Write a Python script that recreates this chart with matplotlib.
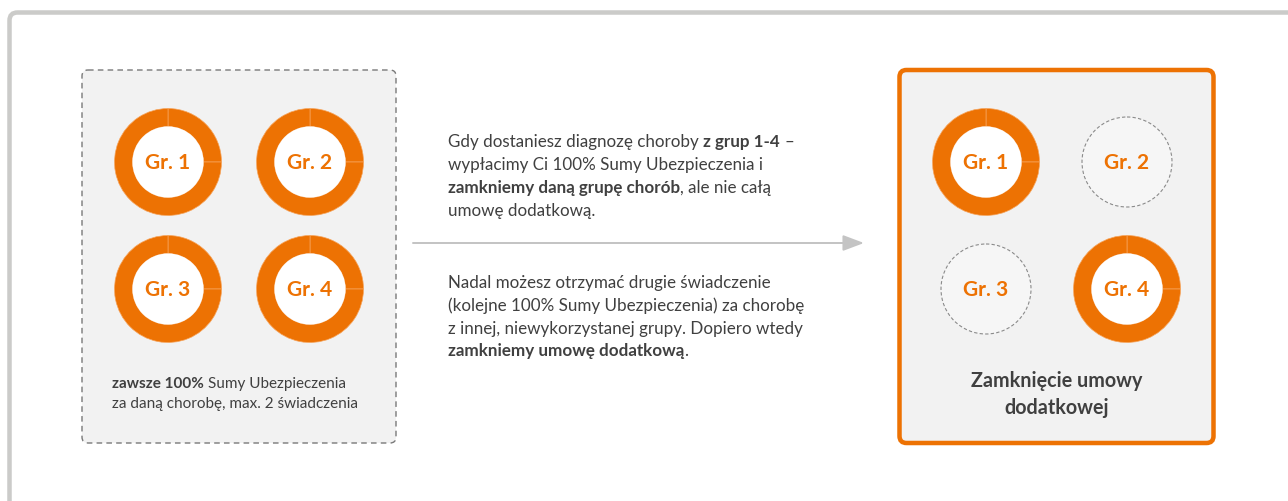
import matplotlib
matplotlib.use("Agg")
import matplotlib.pyplot as plt
from matplotlib.patches import FancyBboxPatch, Circle

W, H = 1288, 501
ORANGE = "#ED7203"
TEXT = "#404040"

# data
groups = ["Gr. 1", "Gr. 2", "Gr. 3", "Gr. 4"]
slice_shares = [25, 75]
left_active = [True, True, True, True]
right_active = [True, False, False, True]
left_centers = [(168, 162), (310, 162), (168, 289), (310, 289)]
right_centers = [(986, 162), (1127, 162), (986, 289), (1127, 289)]

para1 = [
    [("Gdy dostaniesz diagnozę choroby", False), ("z grup 1-4", True), ("–", False)],
    [("wypłacimy Ci 100% Sumy Ubezpieczenia i", False)],
    [("zamkniemy daną grupę chorób", True), (", ale nie całą", False, True)],
    [("umowę dodatkową.", False)],
]
para2 = [
    [("Nadal możesz otrzymać drugie świadczenie", False)],
    [("(kolejne 100% Sumy Ubezpieczenia) za chorobę", False)],
    [("z innej, niewykorzystanej grupy. Dopiero wtedy", False)],
    [("zamkniemy umowę dodatkową", True), (".", False, True)],
]
left_note = [
    [("zawsze 100%", True), ("Sumy Ubezpieczenia", False)],
    [("za daną chorobę, max. 2 świadczenia", False)],
]

plt.rcParams["font.family"] = ["Lato", "DejaVu Sans"]

fig = plt.figure(figsize=(W / 100, H / 100), dpi=100)
ax = fig.add_axes([0, 0, 1, 1])
renderer = fig.canvas.get_renderer()


def px(v):
    return v * 0.72


def rich_line(x, y, segs, size, color=TEXT):
    # draw text pieces one after another, bold where asked
    probe = ax.text(0, 0, "x x", fontsize=size)
    probe2 = ax.text(0, 0, "xx", fontsize=size)
    space = probe.get_window_extent(renderer).width - probe2.get_window_extent(renderer).width
    probe.remove()
    probe2.remove()
    for i, seg in enumerate(segs):
        txt, bold = seg[0], seg[1]
        glued = len(seg) > 2
        if i > 0 and not glued:
            x += space
        t = ax.text(x, y, txt, fontsize=size, color=color, va="baseline", ha="left",
                    fontweight="bold" if bold else "normal")
        x += t.get_window_extent(renderer).width


def donut(center, label):
    ax.pie(slice_shares, radius=53.5, center=center, startangle=270, counterclock=True,
           colors=[ORANGE, ORANGE], frame=True,
           wedgeprops=dict(width=18, edgecolor="#F6A45C", linewidth=0.5))
    ax.add_patch(Circle(center, 35.5, facecolor="white", edgecolor="none", zorder=3))
    ax.text(center[0], center[1] + 1, label, ha="center", va="center", fontsize=px(21),
            fontweight="bold", color=ORANGE, zorder=4)


def empty_slot(center, label):
    ax.add_patch(Circle(center, 45, facecolor="#F6F6F6", edgecolor="#8A8A8A",
                        linewidth=0.8, linestyle=(0, (3, 2)), zorder=3))
    ax.text(center[0], center[1] + 1, label, ha="center", va="center", fontsize=px(21),
            fontweight="bold", color=ORANGE, zorder=4)


# outer frame
ax.add_patch(FancyBboxPatch((9.5, 12.5), 1400, 600, boxstyle="round,pad=0,rounding_size=8",
                            facecolor="white", edgecolor="#CBCBC9", linewidth=px(4.5)))

# left box
ax.add_patch(FancyBboxPatch((82, 70), 314, 373, boxstyle="round,pad=0,rounding_size=6",
                            facecolor="#F2F2F2", edgecolor="#7A7A7A", linewidth=px(1.4),
                            linestyle=(0, (4, 3))))
# right box
ax.add_patch(FancyBboxPatch((899.5, 70), 314, 373, boxstyle="round,pad=0,rounding_size=7",
                            facecolor="#F2F2F2", edgecolor=ORANGE, linewidth=px(4.5)))

for g, c, a in zip(groups, left_centers, left_active):
    if a:
        donut(c, g)
    else:
        empty_slot(c, g)
for g, c, a in zip(groups, right_centers, right_active):
    if a:
        donut(c, g)
    else:
        empty_slot(c, g)

# arrow
ax.annotate("", xy=(864, 243), xytext=(413, 243),
            arrowprops=dict(arrowstyle="-|>,head_length=0.85,head_width=0.32", color="#C4C4C4",
                            lw=px(2), mutation_scale=15, shrinkA=0, shrinkB=0))

for i, line in enumerate(para1):
    rich_line(448, 147 + i * 23, line, px(17))
for i, line in enumerate(para2):
    rich_line(448, 288 + i * 22.8, line, px(17))
for i, line in enumerate(left_note):
    rich_line(112, 388 + i * 20, line, px(15.2))

ax.text(1056.5, 381, "Zamknięcie umowy", ha="center", va="center", fontsize=px(19.8),
        fontweight="bold", color=TEXT)
ax.text(1056.5, 408, "dodatkowej", ha="center", va="center", fontsize=px(19.8),
        fontweight="bold", color=TEXT)

ax.set_xlim(0, W)
ax.set_ylim(H, 0)
ax.set_aspect("auto")
ax.axis("off")
fig.savefig("out.png", dpi=100)
